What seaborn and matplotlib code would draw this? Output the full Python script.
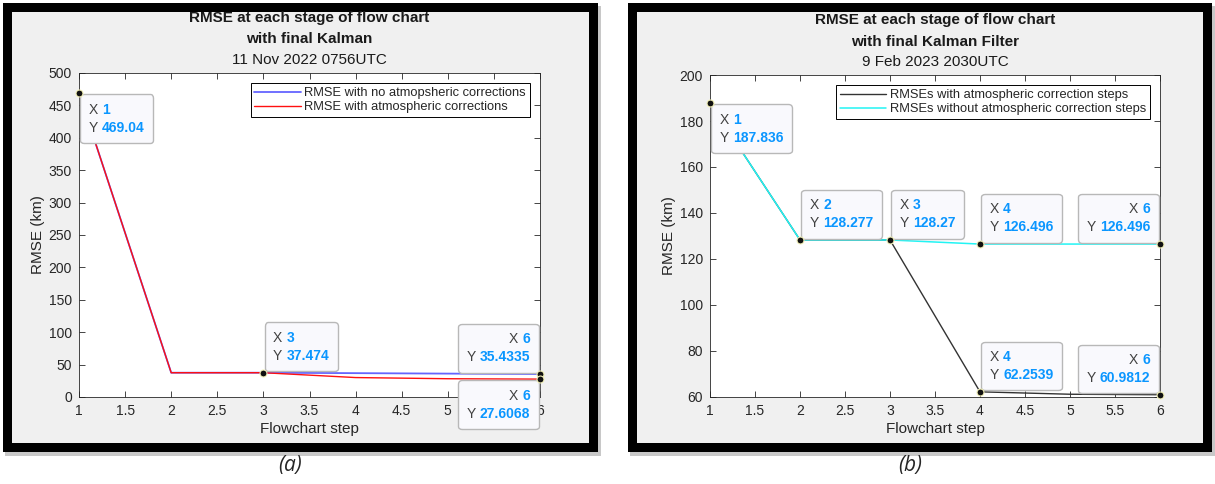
import numpy as np
import pandas as pd
import matplotlib
matplotlib.use("Agg")
import matplotlib.pyplot as plt
import seaborn as sns
from matplotlib.patches import Rectangle
from matplotlib.ticker import FuncFormatter, MultipleLocator
from matplotlib.offsetbox import TextArea, HPacker, VPacker, AnnotationBbox

steps = [1, 2, 3, 4, 5, 6]

# panel (a) - 11 Nov 2022 0756UTC
a_no_atm = [469.04, 37.474, 37.474, 36.8, 36.1, 35.4335]
a_atm = [469.04, 37.474, 37.474, 30.0, 28.2, 27.6068]
a_names = ["RMSE with no atmopsheric corrections", "RMSE with atmospheric corrections"]
a_colors = ["#6464ff", "#ff1010"]
a_widths = [1.3, 1.0]

# panel (b) - 9 Feb 2023 2030UTC
b_atm = [187.836, 128.277, 128.27, 62.2539, 61.2, 60.9812]
b_no_atm = [187.836, 128.277, 128.27, 126.496, 126.496, 126.496]
b_names = ["RMSEs with atmospheric correction steps", "RMSEs without atmospheric correction steps"]
b_colors = ["#333333", "#22f4f4"]
b_widths = [1.0, 1.1]

# data tips: (series, step index, placement of the box: u/d + r/l)
a_tips = [(a_atm, 0, "dr"), (a_atm, 2, "ur"), (a_no_atm, 5, "ul"), (a_atm, 5, "dl")]
b_tips = [(b_no_atm, 0, "dr"), (b_no_atm, 1, "ur"), (b_no_atm, 2, "ur"), (b_no_atm, 3, "ur"),
          (b_no_atm, 5, "ul"), (b_atm, 3, "ur"), (b_atm, 5, "ul")]

sns.set_style("ticks")
plt.rcParams["font.family"] = ["Liberation Sans", "DejaVu Sans"]

W, H = 1215, 484
fig = plt.figure(figsize=(W / 100, H / 100), dpi=100)
fig.patch.set_facecolor("white")

def px_rect(x0, y0, x1, y1, **kw):
    # rectangle given in screen pixels (top-left origin)
    r = Rectangle((x0 / W, 1 - y1 / H), (x1 - x0) / W, (y1 - y0) / H,
                  transform=fig.transFigure, **kw)
    fig.patches.append(r)

# window frames with a soft shadow
for x0, x1 in [(3, 598), (628, 1212)]:
    px_rect(x0 + 2, 6, x1 + 3, 456, facecolor="#c8c8c8", edgecolor="none", zorder=-3)
    px_rect(x0, 3, x1, 452, facecolor="black", edgecolor="none", zorder=-2)
    px_rect(x0 + 9, 12, x1 - 9, 443, facecolor="#f0f0f0", edgecolor="none", zorder=-1)

lab_props = dict(color="#404040", fontsize=10)
val_props = dict(color="#0a96ff", fontsize=10, fontweight="bold")

def datatip(ax, x, y, where):
    left = where[1] == "l"
    rows = []
    for k, v in (("X", x), ("Y", y)):
        rows.append(HPacker(children=[TextArea(k, textprops=lab_props),
                                      TextArea(f"{v:g}", textprops=val_props)],
                            pad=0, sep=3))
    box = VPacker(children=rows, align="right" if left else "left", pad=0, sep=3)
    off = 7.0
    ab = AnnotationBbox(box, (x, y), xycoords="data",
                        xybox=(-off if left else off, off if where[0] == "u" else -off),
                        boxcoords="offset points",
                        box_alignment=(1 if left else 0, 0 if where[0] == "u" else 1),
                        fontsize=10, frameon=True, annotation_clip=False,
                        bboxprops=dict(boxstyle="round,pad=0.6,rounding_size=0.25",
                                       fc="#f9f9fd", ec="#b8b8b8", lw=1))
    ab.set_zorder(20)
    ax.add_artist(ab)
    ax.plot([x], [y], "o", ms=5, mfc="#111111", mec="#f2f0b8", mew=0.8,
            zorder=21, clip_on=False)

def panel(rect, series, names, colors, widths, tips, ylim, ystep, titles, title_y,
          caption, cap_x):
    ax = fig.add_axes(rect)
    df = pd.DataFrame({"step": steps * len(series),
                       "rmse": np.concatenate(series),
                       "kind": np.repeat(names, len(steps))})
    for name, col, lw in zip(names, colors, widths):
        sns.lineplot(data=df[df.kind == name], x="step", y="rmse", color=col,
                     linewidth=lw, label=name, ax=ax)
    ax.set_xlim(1, 6)
    ax.set_ylim(*ylim)
    ax.xaxis.set_major_locator(MultipleLocator(0.5))
    ax.yaxis.set_major_locator(MultipleLocator(ystep))
    ax.xaxis.set_major_formatter(FuncFormatter(lambda v, p: f"{v:g}"))
    ax.tick_params(direction="in", length=4, width=0.6, colors="#262626",
                   labelsize=10, top=True, right=True, pad=5)
    for s in ax.spines.values():
        s.set_color("#262626")
        s.set_linewidth(0.6)
    ax.set_xlabel("Flowchart step", fontsize=11, color="#262626", labelpad=3)
    ax.set_ylabel("RMSE (km)", fontsize=11, color="#262626", labelpad=3)
    leg = ax.legend(loc="upper right", fontsize=9.3, frameon=True, fancybox=False,
                    edgecolor="black", framealpha=1, borderpad=0.3, labelspacing=0.15,
                    handlelength=3.6, handletextpad=0.25, borderaxespad=0.8)
    leg.get_frame().set_linewidth(0.7)
    for s, i, where in tips:
        datatip(ax, steps[i], s[i], where)
    cx = rect[0] + rect[2] / 2
    for (txt, bold), ty in zip(titles, title_y):
        fig.text(cx, 1 - ty / H, txt, ha="center", va="center", fontsize=11,
                 fontweight="bold" if bold else "normal", color="#1a1a1a")
    fig.text(cap_x / W, 1 - 466 / H, caption, ha="center", va="center",
             fontsize=15, style="italic", family=["Open Sans", "DejaVu Sans"])
    return ax

panel([79 / W, 1 - 397 / H, 461 / W, 324 / H], [a_no_atm, a_atm], a_names, a_colors,
      a_widths, a_tips, (0, 500), 50,
      [("RMSE at each stage of flow chart", True), ("with final Kalman", True),
       ("11 Nov 2022 0756UTC", False)], [18, 39, 60], "(a)", 290)

panel([710 / W, 1 - 397 / H, 450 / W, 322 / H], [b_atm, b_no_atm], b_names, b_colors,
      b_widths, b_tips, (60, 200), 20,
      [("RMSE at each stage of flow chart", True), ("with final Kalman Filter", True),
       ("9 Feb 2023 2030UTC", False)], [20, 42, 62], "(b)", 910)

fig.savefig("out.png", dpi=100)
